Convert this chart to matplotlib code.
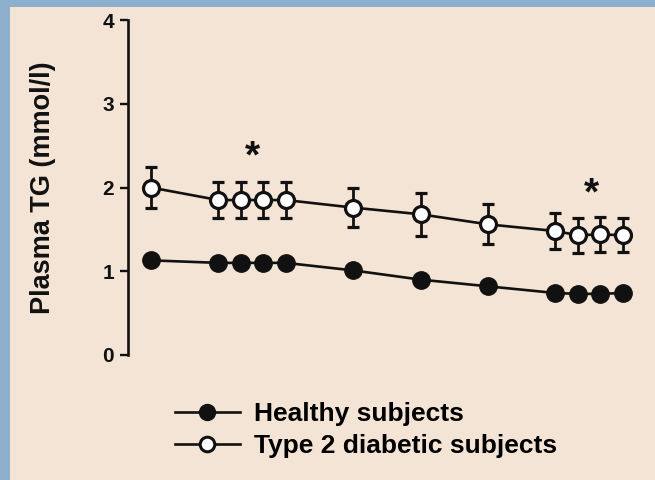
import matplotlib
matplotlib.use('Agg')
import matplotlib.pyplot as plt
from matplotlib.patches import Rectangle
from matplotlib.lines import Line2D

plt.rcParams['font.family'] = ['Liberation Sans', 'DejaVu Sans']

# ── Data (time in min, plasma TG in mmol/l) ────────────────────────────────
TIME         = [0, 30, 40, 50, 60, 90, 120, 150, 180, 190, 200, 210]
HEALTHY      = [1.13, 1.10, 1.10, 1.10, 1.10, 1.01, 0.90, 0.82, 0.74, 0.73, 0.73, 0.74]
DIABETIC     = [2.00, 1.85, 1.85, 1.85, 1.85, 1.76, 1.68, 1.56, 1.48, 1.43, 1.44, 1.43]
DIABETIC_ERR = [0.24, 0.22, 0.22, 0.22, 0.22, 0.23, 0.26, 0.24, 0.22, 0.21, 0.21, 0.20]
STAR_X       = [45, 196]
STAR_Y       = [2.36, 1.92]
Y_TICKS      = [0, 1, 2, 3, 4]

BG   = "#F4E4D5"
EDGE = "#8EAFCB"
INK  = "#111111"

fig = plt.figure(figsize=(6.55, 4.8), dpi=100)
fig.patch.set_facecolor(BG)

# blue frame strips (screenshot border)
fig.patches.append(Rectangle((0, 0), 10 / 655, 1, transform=fig.transFigure,
                             facecolor=EDGE, edgecolor='none', zorder=0))
fig.patches.append(Rectangle((0, 1 - 7 / 480), 1, 7 / 480, transform=fig.transFigure,
                             facecolor=EDGE, edgecolor='none', zorder=0))

ax = fig.add_axes([128 / 655, 1 - 355 / 480, 527 / 655, 335 / 480])
ax.set_facecolor('none')
ax.set_xlim(-10.2, 224.3)
ax.set_ylim(0, 4)

# series
ax.plot(TIME, HEALTHY, '-o', color=INK, lw=1.9, ms=12.5,
        markerfacecolor=INK, markeredgecolor=INK, zorder=3)
ax.errorbar(TIME, DIABETIC, yerr=DIABETIC_ERR, fmt='-o', color=INK, lw=1.9,
            ms=11.5, markerfacecolor='white', markeredgecolor=INK, markeredgewidth=2.3,
            elinewidth=2.0, capsize=4, capthick=2.2, zorder=4)

for sx, sy in zip(STAR_X, STAR_Y):
    ax.text(sx, sy, "*", ha='center', va='center', fontsize=28,
            fontweight='bold', color=INK)

# axes styling
for s in ['top', 'right', 'bottom']:
    ax.spines[s].set_visible(False)
ax.spines['left'].set_linewidth(1.9)
ax.spines['left'].set_color(INK)
ax.set_xticks([])
ax.set_yticks(Y_TICKS)
ax.set_yticklabels([str(t) for t in Y_TICKS], fontsize=15, fontweight='bold')
ax.tick_params(axis='y', length=6, width=1.7, pad=4, colors=INK)

ax.set_ylabel("Plasma TG (mmol/l)", fontsize=19.5, fontweight='bold', color=INK)
ax.yaxis.set_label_coords(-0.137, 0.50)

# legend
handles = [
    Line2D([], [], color=INK, lw=1.9, marker='o', ms=11.5,
           markerfacecolor=INK, markeredgecolor=INK),
    Line2D([], [], color=INK, lw=1.9, marker='o', ms=10.5,
           markerfacecolor='white', markeredgecolor=INK, markeredgewidth=2.2),
]
fig.legend(handles, ["Healthy subjects", "Type 2 diabetic subjects"],
           loc='upper left', bbox_to_anchor=(175 / 655, 1 - 402 / 480),
           frameon=False, borderpad=0, borderaxespad=0,
           handlelength=2.45, handletextpad=0.55, labelspacing=0.32,
           prop={'size': 19, 'weight': 'bold'})

fig.savefig("out.png", dpi=100, facecolor=BG)
